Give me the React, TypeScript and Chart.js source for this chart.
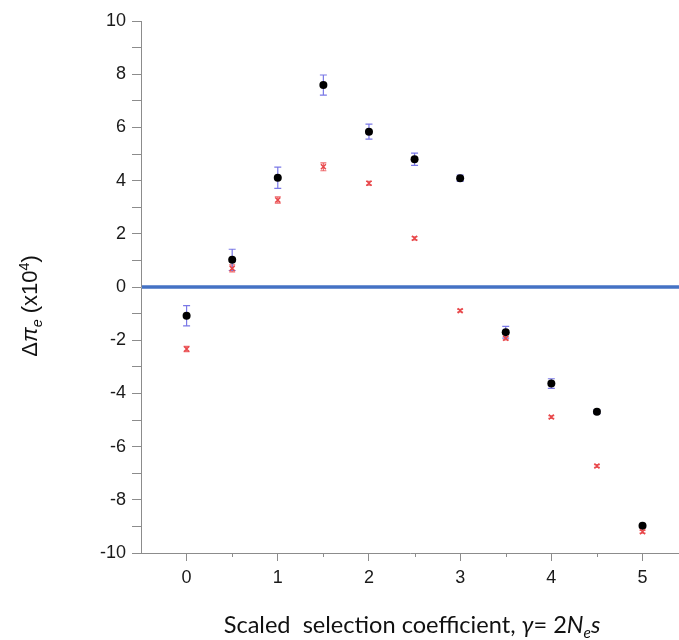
import { useEffect, useRef } from 'react';
import { Chart, registerables } from 'chart.js';

Chart.register(...registerables);

// ---- Data ----
const gammaValues = [0, 0.5, 1, 1.5, 2, 2.5, 3, 3.5, 4, 4.5, 5];
const blackValues = [-1.08, 1.02, 4.11, 7.59, 5.84, 4.8, 4.09, -1.7, -3.63, -4.69, -8.98];
const blackErrors = [0.38, 0.4, 0.4, 0.38, 0.28, 0.23, 0.12, 0.22, 0.18, 0.07, 0.06];
const redValues = [-2.33, 0.7, 3.27, 4.52, 3.9, 1.83, -0.89, -1.93, -4.89, -6.73, -9.2];
const redErrors = [0.1, 0.13, 0.12, 0.15, 0.07, 0.06, 0.05, 0.06, 0.05, 0.05, 0.05];
const xTickValues = [0, 0.5, 1, 1.5, 2, 2.5, 3, 3.5, 4, 4.5, 5];
const yTickValues = [-10, -9, -8, -7, -6, -5, -4, -3, -2, -1, 0, 1, 2, 3, 4, 5, 6, 7, 8, 9, 10];
const referenceLineValue = 0;

const AXIS_GRAY = '#8c8c8c';
const TICK_FONT = { family: '"Liberation Sans", Arial, sans-serif', size: 18 };

type Seg = { t: string; italic?: boolean; sub?: boolean; sup?: boolean };

function drawRich(ctx: CanvasRenderingContext2D, segs: Seg[], family: string, size: number, cx: number, baseline: number) {
  const fontFor = (s: Seg) => {
    const sz = s.sub || s.sup ? size * 0.65 : size;
    return `${s.italic ? 'italic ' : ''}${sz}px ${family}`;
  };
  let total = 0;
  const widths = segs.map((s) => {
    ctx.font = fontFor(s);
    const w = ctx.measureText(s.t).width;
    total += w;
    return w;
  });
  let x = cx - total / 2;
  ctx.textBaseline = 'alphabetic';
  ctx.textAlign = 'left';
  segs.forEach((s, i) => {
    ctx.font = fontFor(s);
    let y = baseline;
    if (s.sub) y += size * 0.22;
    if (s.sup) y -= size * 0.38;
    ctx.fillText(s.t, x, y);
    x += widths[i];
  });
  return total;
}

const referenceLinePlugin = {
  id: 'referenceLine',
  beforeDatasetsDraw(chart: any) {
    const { ctx, chartArea } = chart;
    const y = chart.scales.y.getPixelForValue(referenceLineValue);
    ctx.save();
    ctx.strokeStyle = '#4472c4';
    ctx.lineWidth = 3.5;
    ctx.beginPath();
    ctx.moveTo(chartArea.left + 1, y);
    ctx.lineTo(chartArea.right, y);
    ctx.stroke();
    ctx.restore();
  },
};

const errorBarPlugin = {
  id: 'errorBars',
  beforeDatasetsDraw(chart: any) {
    const { ctx } = chart;
    const ys = chart.scales.y;
    chart.data.datasets.forEach((ds: any, i: number) => {
      const errs: number[] | undefined = ds.errors;
      if (!errs) return;
      const meta = chart.getDatasetMeta(i);
      ctx.save();
      ctx.strokeStyle = ds.errorColor;
      ctx.lineWidth = 1.2;
      meta.data.forEach((pt: any, j: number) => {
        const v = ds.data[j].y;
        const top = ys.getPixelForValue(v + errs[j]);
        const bot = ys.getPixelForValue(v - errs[j]);
        const x = pt.x;
        const w = ds.capHalf;
        ctx.beginPath();
        ctx.moveTo(x, top);
        ctx.lineTo(x, bot);
        ctx.moveTo(x - w, top);
        ctx.lineTo(x + w, top);
        ctx.moveTo(x - w, bot);
        ctx.lineTo(x + w, bot);
        ctx.stroke();
      });
      ctx.restore();
    });
  },
};

const decorPlugin = {
  id: 'decor',
  afterDraw(chart: any) {
    const { ctx, chartArea } = chart;
    const xs = chart.scales.x;
    // minor x ticks (shorter)
    ctx.save();
    ctx.strokeStyle = AXIS_GRAY;
    ctx.lineWidth = 1;
    xTickValues.forEach((v) => {
      if (Number.isInteger(v)) return;
      const x = Math.round(xs.getPixelForValue(v)) + 0.5;
      ctx.beginPath();
      ctx.moveTo(x, chartArea.bottom);
      ctx.lineTo(x, chartArea.bottom + 4);
      ctx.stroke();
    });
    ctx.restore();

    // y axis title
    ctx.save();
    ctx.fillStyle = '#111';
    ctx.translate(37, 306);
    ctx.rotate(-Math.PI / 2);
    drawRich(
      ctx,
      [
        { t: 'Δ' },
        { t: 'π', italic: true },
        { t: 'e', italic: true, sub: true },
        { t: ' (x10' },
        { t: '4', sup: true },
        { t: ')' },
      ],
      '"Liberation Sans", Arial, sans-serif',
      22,
      0,
      0
    );
    ctx.restore();

    // x axis title
    ctx.save();
    ctx.fillStyle = '#111';
    const xSegs: Seg[] = [
      { t: 'Scaled  selection coefficient, ' },
      { t: 'γ', italic: true },
      { t: '= 2' },
      { t: 'N', italic: true },
      { t: 'e', italic: true, sub: true },
      { t: 's', italic: true },
    ];
    const family = 'Lato, "Open Sans", sans-serif';
    const base = 20;
    let tot = 0;
    xSegs.forEach((s) => {
      ctx.font = `${s.italic ? 'italic ' : ''}${s.sub ? base * 0.65 : base}px ${family}`;
      tot += ctx.measureText(s.t).width;
    });
    const size = (base * 377) / tot;
    drawRich(ctx, xSegs, family, size, 412, 633);
    ctx.restore();
  },
};

export default function App() {
  const canvasRef = useRef<HTMLCanvasElement>(null);

  useEffect(() => {
    const canvas = canvasRef.current;
    if (!canvas) return;
    const chart = new Chart(canvas, {
      type: 'scatter',
      data: {
        datasets: [
          {
            label: 'red',
            data: gammaValues.map((g, i) => ({ x: g, y: redValues[i] })),
            pointStyle: 'crossRot',
            pointRadius: 3.5,
            borderColor: '#e8474a',
            backgroundColor: '#e8474a',
            borderWidth: 1.5,
            errors: redErrors,
            errorColor: '#ee6a6c',
            capHalf: 3,
          } as any,
          {
            label: 'black',
            data: gammaValues.map((g, i) => ({ x: g, y: blackValues[i] })),
            pointStyle: 'circle',
            pointRadius: 4,
            borderColor: '#000',
            backgroundColor: '#000',
            borderWidth: 0,
            errors: blackErrors,
            errorColor: '#7a78e6',
            capHalf: 3.5,
          } as any,
        ],
      },
      options: {
        responsive: false,
        animation: false,
        devicePixelRatio: 1,
        layout: { autoPadding: false, padding: { top: 21, left: 0, right: 0, bottom: 0 } },
        plugins: {
          legend: { display: false },
          tooltip: { enabled: false },
          title: { display: false },
        },
        scales: {
          x: {
            type: 'linear',
            min: -0.5,
            max: 5.4,
            afterBuildTicks: (s: any) => {
              s.ticks = xTickValues.map((v) => ({ value: v }));
            },
            afterFit: (s: any) => {
              s.height = 87;
              s.paddingLeft = 0;
              s.paddingRight = 0;
            },
            ticks: {
              callback: (v: any) => (Number.isInteger(v) ? String(v) : ''),
              font: TICK_FONT,
              color: '#1a1a1a',
              padding: 6,
              maxRotation: 0,
              autoSkip: false,
            },
            grid: {
              drawOnChartArea: false,
              drawTicks: true,
              tickLength: 8,
              color: AXIS_GRAY,
              tickColor: (c: any) => (c.tick && Number.isInteger(c.tick.value) ? AXIS_GRAY : 'rgba(0,0,0,0)'),
            },
            border: { display: true, color: AXIS_GRAY, width: 1 },
          },
          y: {
            type: 'linear',
            min: -10,
            max: 10,
            afterBuildTicks: (s: any) => {
              s.ticks = yTickValues.map((v) => ({ value: v }));
            },
            afterFit: (s: any) => {
              s.width = 141;
              s.paddingTop = 0;
              s.paddingBottom = 0;
            },
            ticks: {
              callback: (v: any) => (v % 2 === 0 ? String(v) : ''),
              font: TICK_FONT,
              color: '#1a1a1a',
              padding: 6,
              autoSkip: false,
            },
            grid: {
              drawOnChartArea: false,
              drawTicks: true,
              tickLength: 9,
              color: AXIS_GRAY,
            },
            border: { display: true, color: AXIS_GRAY, width: 1 },
          },
        },
      } as any,
      plugins: [referenceLinePlugin, errorBarPlugin, decorPlugin],
    });
    return () => chart.destroy();
  }, []);

  return (
    <div style={{ position: 'absolute', left: 0, top: 0, width: 679, height: 640, background: '#fff' }}>
      <canvas ref={canvasRef} width={679} height={640} />
    </div>
  );
}
